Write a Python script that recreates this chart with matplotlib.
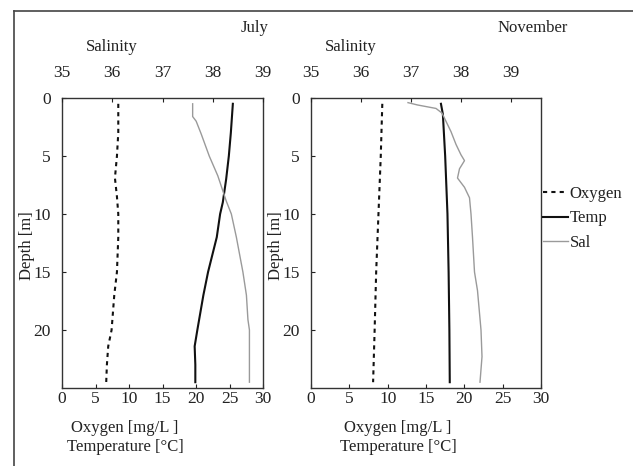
import matplotlib
matplotlib.use("Agg")
import matplotlib.pyplot as plt
from matplotlib.lines import Line2D

plt.rcParams['font.family'] = ['Liberation Serif', 'DejaVu Serif']
plt.rcParams['font.size'] = 12

TXT = '#222222'
SAL_C = '#9a9a9a'

# ---- July ----
jul_oxy_depth = [0.5, 3, 5, 6.9, 8.5, 10, 12, 15, 17, 20, 21.4, 23, 24.5]
jul_oxy = [8.4, 8.4, 8.2, 7.9, 8.2, 8.4, 8.4, 8.2, 7.8, 7.4, 6.9, 6.7, 6.6]
jul_temp_depth = [0.5, 3, 5, 7, 9, 10, 12, 15, 17, 20, 21.4, 23, 24.5]
jul_temp = [25.5, 25.2, 24.9, 24.5, 24.0, 23.6, 23.1, 21.8, 21.1, 20.2, 19.8, 19.9, 19.9]
jul_sal_depth = [0.5, 1.6, 2, 3.1, 5, 6.7, 8.9, 10, 12, 15, 17, 19.1, 20, 22.3, 24.5]
jul_sal = [37.6, 37.6, 37.67, 37.77, 37.93, 38.1, 38.27, 38.37, 38.47, 38.6, 38.67, 38.7, 38.73, 38.73, 38.73]

# ---- November ----
nov_oxy_depth = [0.5, 5, 10, 15, 20, 24.5]
nov_oxy = [9.3, 9.1, 8.8, 8.5, 8.3, 8.1]
nov_temp_depth = [0.5, 1.4, 5, 10, 15, 20, 24.5]
nov_temp = [16.95, 17.2, 17.5, 17.8, 17.95, 18.05, 18.1]
nov_sal_depth = [0.4, 0.6, 0.9, 1.3, 2.9, 4, 4.9, 5.4, 6.1, 6.9, 7.7, 8.6, 10, 12, 15, 16.6, 20, 22.3, 24.5]
nov_sal = [36.94, 37.13, 37.5, 37.62, 37.8, 37.9, 38.0, 38.07, 37.97, 37.93, 38.07, 38.17, 38.2, 38.23, 38.27, 38.33, 38.4, 38.42, 38.38]

bottom_ticks = [0, 5, 10, 15, 20, 25, 30]
sal_ticks = [35, 36, 37, 38, 39]
depth_ticks = [0, 5, 10, 15, 20]

W, H = 633, 466
fig = plt.figure(figsize=(W / 100, H / 100), dpi=100)

def fx(px):
    return px / W

def fy(py):
    return 1 - py / H

def make_panel(x0, x1, sal_max, oxy_d, oxy, tmp_d, tmp, sal_d, sal, label_x):
    ax = fig.add_axes([fx(x0), fy(388), fx(x1 - x0), (388 - 98) / H])
    ax.plot(oxy, oxy_d, color='#111111', lw=1.5, ls=(0, (2, 2)), label='Oxygen')
    ax.plot(tmp, tmp_d, color='#111111', lw=1.5, label='Temp')
    ax.set_xlim(0, 30)
    ax.set_ylim(25, 0)
    ax.set_xticks(bottom_ticks)
    ax.set_yticks(depth_ticks)
    ax.tick_params(direction='in', length=3, colors=TXT, labelsize=12.5)
    ax.tick_params(axis='x', pad=2)
    ax.tick_params(axis='y', pad=8)
    for s in ax.spines.values():
        s.set_color('#333333')
        s.set_linewidth(1.0)
    ax.set_ylabel('Depth [m]', color=TXT, fontsize=12)
    ax.yaxis.set_label_coords(label_x, 0.49)
    ax2 = ax.twiny()
    l3, = ax2.plot(sal, sal_d, color=SAL_C, lw=1.0, label='Sal')
    ax2.set_xlim(35, sal_max)
    ax2.set_xticks(sal_ticks)
    ax2.tick_params(direction='in', length=3, colors=TXT, labelsize=12.5, pad=12)
    for s in ax2.spines.values():
        s.set_visible(False)
    ax2.set_ylim(25, 0)
    return ax, ax2, l3

axL, axL2, _ = make_panel(62, 263, 39, jul_oxy_depth, jul_oxy, jul_temp_depth, jul_temp,
                          jul_sal_depth, jul_sal, -0.135)
axR, axR2, lsal = make_panel(311, 541, 35 + (541 - 311) / 50, nov_oxy_depth, nov_oxy,
                             nov_temp_depth, nov_temp, nov_sal_depth, nov_sal, -0.118)

# titles
fig.text(fx(255), fy(28), 'July', ha='center', va='center', color=TXT, fontsize=12)
fig.text(fx(533), fy(28), 'November', ha='center', va='center', color=TXT, fontsize=12)
fig.text(fx(112), fy(47), 'Salinity', ha='center', va='center', color=TXT, fontsize=12)
fig.text(fx(351), fy(47), 'Salinity', ha='center', va='center', color=TXT, fontsize=12)

# bottom labels
for cx in (125, 398):
    fig.text(fx(cx), fy(428), 'Oxygen [mg/L ]', ha='center', va='center', color=TXT, fontsize=12)
    fig.text(fx(cx), fy(447), 'Temperature [°C]', ha='center', va='center', color=TXT, fontsize=12)

# legend
handles = axR.get_lines()[:2] + [lsal]
leg = fig.legend(handles=handles, labels=['Oxygen', 'Temp', 'Sal'],
                 loc='upper left', bbox_to_anchor=(fx(543), fy(186)),
                 frameon=False, borderpad=0, borderaxespad=0,
                 handlelength=1.5, handletextpad=0.1, labelspacing=0.5,
                 fontsize=12)
for t in leg.get_texts():
    t.set_color(TXT)

# outer frame lines
fig.add_artist(Line2D([fx(14), fx(14)], [fy(11), 0], transform=fig.transFigure,
                      color='#444444', lw=1.2))
fig.add_artist(Line2D([fx(14), 1], [fy(11), fy(11)], transform=fig.transFigure,
                      color='#444444', lw=1.2))

fig.savefig('out.png', dpi=100, facecolor='white')
